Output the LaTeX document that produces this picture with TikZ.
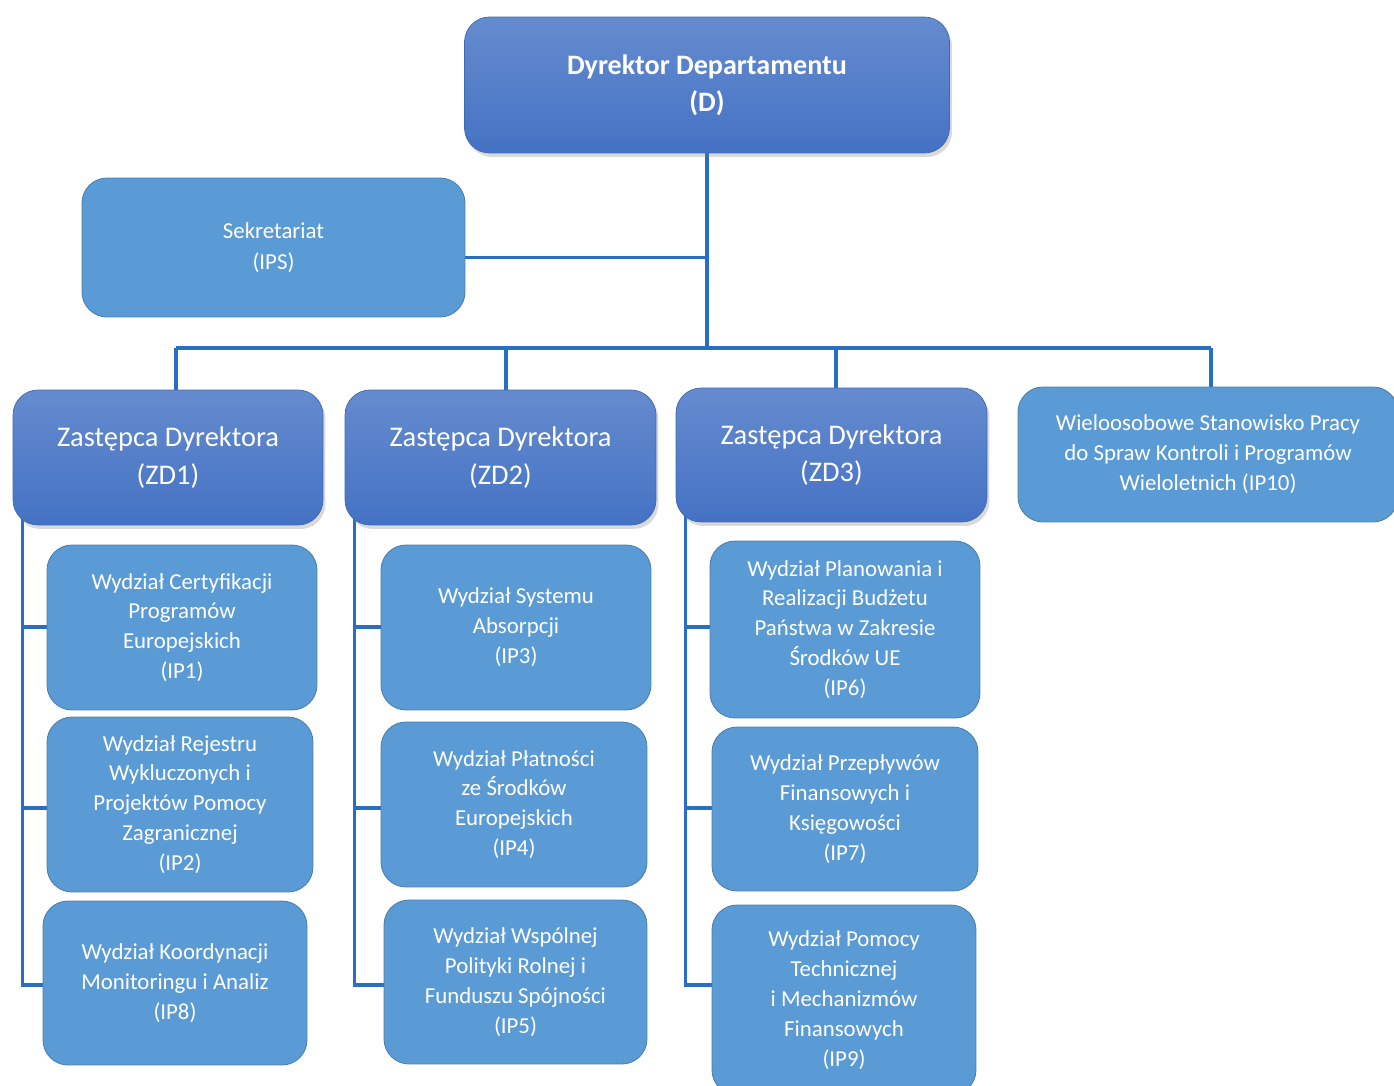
\documentclass[tikz,border=0pt]{standalone}
\usepackage{fontspec}
\setmainfont{Carlito}
\usetikzlibrary{shadows,backgrounds}
\definecolor{headblue}{HTML}{4472C4}
\definecolor{unitblue}{HTML}{5B9BD5}
\definecolor{linkblue}{HTML}{2A6EC4}

\tikzset{
    head/.style={rectangle, rounded corners=0.5cm, draw=headblue!92!black, line width=0.4pt,
        top color=headblue!82!white, middle color=headblue, bottom color=headblue,
        text=white, align=center, inner sep=0pt,
        drop shadow={opacity=0.3, shadow xshift=0.05cm, shadow yshift=-0.08cm}},
    unit/.style={rectangle, rounded corners=0.5cm, draw=unitblue!82!black, line width=0.5pt,
        fill=unitblue, text=white, align=center, inner sep=0pt,
        font=\fontsize{13}{17}\selectfont},
    link/.style={draw=linkblue, line width=1.8pt},
}

\begin{document}
\begin{tikzpicture}[x=0.02cm, y=-0.02cm]
    \useasboundingbox (0,0) rectangle (1394,1086);

    % kierownictwo
    \node[head, font=\fontsize{16}{21}\selectfont\bfseries, minimum width=9.7cm, minimum height=2.72cm] (D) at (707,85) {Dyrektor Departamentu\\(D)};
    \node[unit, font=\fontsize{13}{17.5}\selectfont, minimum width=7.66cm, minimum height=2.78cm] (sek) at (273.5,247.5) {Sekretariat\\(IPS)};
    \node[head, font=\fontsize{16.2}{21.5}\selectfont, minimum width=6.2cm, minimum height=2.7cm] (ZD1) at (168,457.5) {Zastępca Dyrektora\\(ZD1)};
    \node[head, font=\fontsize{16.2}{21.5}\selectfont, minimum width=6.22cm, minimum height=2.7cm] (ZD2) at (500.5,457.5) {Zastępca Dyrektora\\(ZD2)};
    \node[head, font=\fontsize{16.2}{21.5}\selectfont, minimum width=6.22cm, minimum height=2.68cm] (ZD3) at (831.5,455) {Zastępca Dyrektora\\(ZD3)};
    \node[unit, minimum width=7.6cm, minimum height=2.7cm] (IP10) at (1208,454.5) {Wieloosobowe Stanowisko Pracy\\do Spraw Kontroli i Programów\\Wieloletnich (IP10)};

    % wydzialy
    \node[unit, minimum width=5.4cm, minimum height=3.3cm] (IP1) at (182,627.5) {Wydział Certyfikacji\\Programów\\Europejskich\\(IP1)};
    \node[unit, minimum width=5.32cm, minimum height=3.5cm] (IP2) at (180,804.5) {Wydział Rejestru\\Wykluczonych i\\Projektów Pomocy\\Zagranicznej\\(IP2)};
    \node[unit, minimum width=5.28cm, minimum height=3.28cm] (IP8) at (175,983) {Wydział Koordynacji\\Monitoringu i Analiz\\(IP8)};
    \node[unit, minimum width=5.4cm, minimum height=3.3cm] (IP3) at (516,627.5) {Wydział Systemu\\Absorpcji\\(IP3)};
    \node[unit, minimum width=5.32cm, minimum height=3.3cm] (IP4) at (514,804.5) {Wydział Płatności\\ze Środków\\Europejskich\\(IP4)};
    \node[unit, minimum width=5.26cm, minimum height=3.28cm] (IP5) at (515.5,982) {Wydział Wspólnej\\Polityki Rolnej i\\Funduszu Spójności\\(IP5)};
    \node[unit, minimum width=5.4cm, minimum height=3.54cm] (IP6) at (845,629.5) {Wydział Planowania i\\Realizacji Budżetu\\Państwa w Zakresie\\Środków UE\\(IP6)};
    \node[unit, minimum width=5.32cm, minimum height=3.28cm] (IP7) at (845,809) {Wydział Przepływów\\Finansowych i\\Księgowości\\(IP7)};
    \node[unit, minimum width=5.28cm, minimum height=3.8cm] (IP9) at (844,1000) {Wydział Pomocy\\Technicznej\\i Mechanizmów\\Finansowych\\(IP9)};

    % polaczenia
    \begin{pgfonlayer}{background}
        \coordinate (bus) at (708,348);
        \coordinate (row1) at (0,627);
        \coordinate (row2) at (0,808);
        \coordinate (row3) at (0,985);
        \draw[link] (D.south) -- (D.south |- bus);
        \draw[link] ([yshift=-0.2cm]sek.east) -- ([yshift=-0.2cm]sek.east -| D.south);
        \draw[link] ([xshift=0.16cm]ZD1.north |- bus) -- ([xshift=0.06cm]IP10.north |- bus);
        \foreach \n/\dx in {ZD1/0.16cm,ZD2/0.11cm,ZD3/0.09cm,IP10/0.06cm}
            \draw[link] ([xshift=\dx]\n.north |- bus) -- ([xshift=\dx]\n.north);
        \foreach \z/\a/\b/\c in {ZD1/IP1/IP2/IP8, ZD2/IP3/IP4/IP5, ZD3/IP6/IP7/IP9} {
            \coordinate (r\z) at ([xshift=0.2cm, yshift=0.3cm]\z.south west);
            \draw[link] (r\z) |- (\c.west |- row3);
            \draw[link] (r\z |- row1) -- (\a.west |- row1);
            \draw[link] (r\z |- row2) -- (\b.west |- row2);
        }
    \end{pgfonlayer}
\end{tikzpicture}
\end{document}
